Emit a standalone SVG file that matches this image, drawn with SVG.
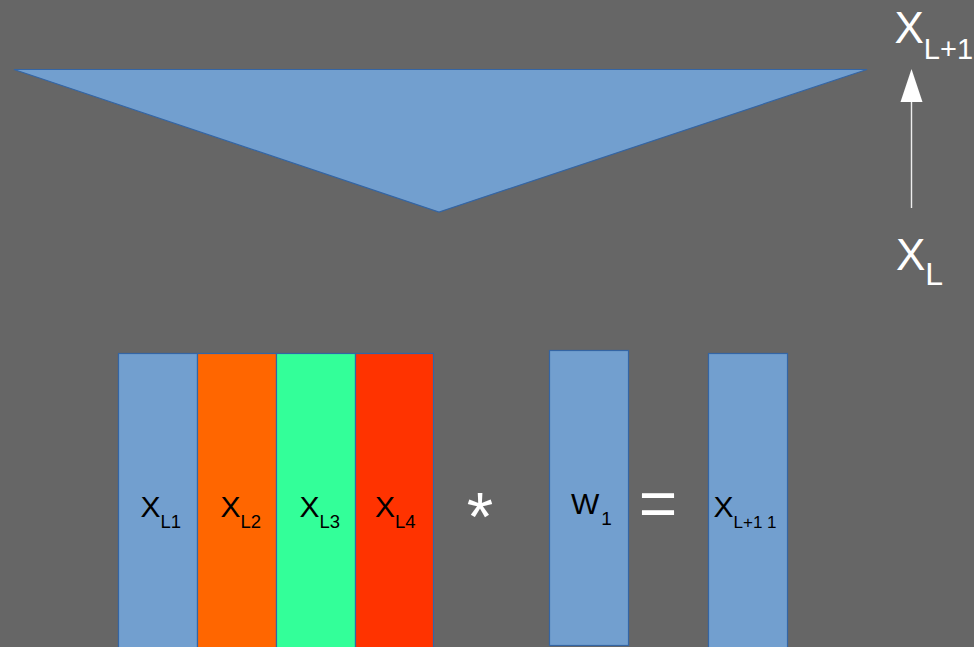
<svg xmlns="http://www.w3.org/2000/svg" width="974" height="647" viewBox="0 0 974 647">
  <style>
    .box { stroke: #3465a4; stroke-width: 1.2; }
    .blue { fill: #729fcf; }
    .lbl { font-family: "Liberation Sans", Arial, sans-serif; fill: #000000; }
    .wht { font-family: "Liberation Sans", Arial, sans-serif; fill: #ffffff; }
  </style>
  <rect width="974" height="647" fill="#666666"/>

  <g id="funnel">
    <polygon class="box blue" points="14,69.5 867,69.5 439,212"/>
  </g>

  <g id="connectors">
    <line x1="911.5" y1="208" x2="911.5" y2="102" stroke="#eeeeee" stroke-width="1.4"/>
    <path d="M900.5,102 L911.5,69 L922.5,102 Z" fill="#ffffff"/>
  </g>

  <g id="label-xl1-top">
    <text class="wht" x="894.5" y="43" font-size="44">X<tspan font-size="29" dy="16">L+1</tspan></text>
  </g>
  <g id="label-xl">
    <text class="wht" x="896" y="270" font-size="44">X<tspan font-size="32" dy="15">L</tspan></text>
  </g>

  <g id="x-l1">
    <rect class="box blue" x="118.5" y="353.5" width="79" height="300"/>
    <text class="lbl" x="140.5" y="516.5" font-size="30">X<tspan font-size="18.5" dy="11.5">L1</tspan></text>
  </g>
  <g id="x-l2">
    <rect class="box" fill="#ff6600" x="197.5" y="353.5" width="79" height="300"/>
    <text class="lbl" x="220.5" y="516.5" font-size="30">X<tspan font-size="18.5" dy="11.5">L2</tspan></text>
  </g>
  <g id="x-l3">
    <rect class="box" fill="#33ff99" x="276.5" y="353.5" width="79" height="300"/>
    <text class="lbl" x="299.5" y="516.5" font-size="30">X<tspan font-size="18.5" dy="11.5">L3</tspan></text>
  </g>
  <g id="x-l4">
    <rect class="box" fill="#ff3300" x="355.5" y="353.5" width="78" height="300"/>
    <text class="lbl" x="375" y="516.5" font-size="30">X<tspan font-size="18.5" dy="11.5">L4</tspan></text>
  </g>

  <g id="op-times">
    <text class="wht" x="480" y="540" font-size="68" text-anchor="middle">*</text>
  </g>

  <g id="w1">
    <rect class="box blue" x="549.5" y="350.5" width="79" height="295"/>
    <text class="lbl" x="571" y="514" font-size="30">W<tspan font-size="19" dx="2" dy="11">1</tspan></text>
  </g>

  <g id="op-equals">
    <text class="wht" x="658" y="526" font-size="66" text-anchor="middle">=</text>
  </g>

  <g id="x-next">
    <rect class="box blue" x="708.5" y="353.5" width="79" height="300"/>
    <text class="lbl" x="713.5" y="516.5" font-size="30">X<tspan font-size="17" dy="11.5">L+1 1</tspan></text>
  </g>
</svg>
